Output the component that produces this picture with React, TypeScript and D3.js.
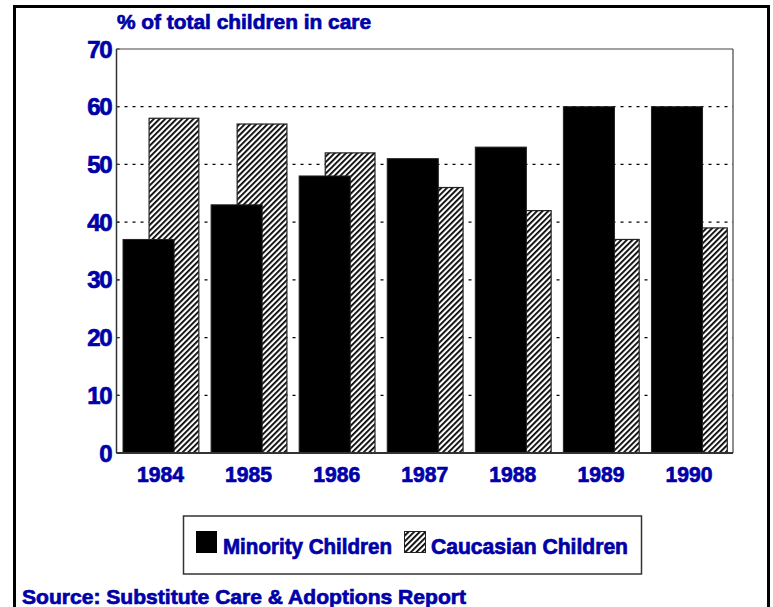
import React from "react";
import * as d3 from "d3";

const years = ["1984", "1985", "1986", "1987", "1988", "1989", "1990"];
const minority = [37, 43, 48, 51, 53, 60, 60];
const caucasian = [58, 57, 52, 46, 42, 37, 39];
const yTicks = [0, 10, 20, 30, 40, 50, 60, 70];
const gridTicks = [10, 20, 30, 40, 50, 60];
const seriesNames = ["Minority Children", "Caucasian Children"];
const titleText = "% of total children in care";
const sourceText = "Source: Substitute Care & Adoptions Report";

const W = 773;
const H = 607;
const BLUE = "#0000a8";
const FONT = "'Liberation Sans', Arial, Helvetica, sans-serif";
const heavy = { stroke: BLUE, strokeWidth: 0.7, paintOrder: "stroke" } as any;

export default function App() {
  const left = 116.5, right = 733, top = 49, bottom = 453;
  const x = d3.scaleBand<string>().domain(years).range([left, right]).paddingInner(0).paddingOuter(0);
  const y = d3.scaleLinear().domain([0, 70]).range([bottom, top]);
  const bw = x.bandwidth();
  const blackOff = bw * 0.074;
  const blackW = bw * 0.58;
  const hatchOff = bw * 0.37;
  const hatchW = bw * 0.565;

  return (
    <svg width={W} height={H} style={{ position: "absolute", left: 0, top: 0, background: "#fff" }}>
      <defs>
        <pattern id="hatch" patternUnits="userSpaceOnUse" width="4" height="4" patternTransform="rotate(45)">
          <rect x="0" y="0" width="4" height="4" fill="#fff" />
          <rect x="0" y="0" width="1.8" height="4" fill="#000" />
        </pattern>
      </defs>
      <rect x={14.5} y={6.5} width={754} height={H + 10} fill="none" stroke="#000" strokeWidth={3} />

      <text x={117} y={29} fontFamily={FONT} fontWeight="bold" fontSize={21} fill={BLUE} {...heavy} textLength={254} lengthAdjust="spacingAndGlyphs">
        {titleText}
      </text>

      {gridTicks.map((t) => (
        <line key={t} x1={left} x2={right} y1={y(t)} y2={y(t)} stroke="#000" strokeWidth={1.2} strokeDasharray="3,5" />
      ))}

      {/* plot frame */}
      <line x1={left} x2={right} y1={top} y2={top} stroke="#444" strokeWidth={1.2} />
      <line x1={right} x2={right} y1={top} y2={bottom} stroke="#444" strokeWidth={1.2} />

      {years.map((yr, i) => {
        const x0 = x(yr) as number;
        return (
          <g key={yr}>
            <rect x={x0 + hatchOff} y={y(caucasian[i])} width={hatchW} height={bottom - y(caucasian[i])} fill="url(#hatch)" stroke="#222" strokeWidth={1.2} />
            <rect x={x0 + blackOff} y={y(minority[i])} width={blackW} height={bottom - y(minority[i])} fill="#000" stroke="#222" strokeWidth={1} />
          </g>
        );
      })}

      <line x1={left} x2={left} y1={top} y2={bottom} stroke="#333" strokeWidth={1.5} />
      <line x1={left} x2={right} y1={bottom} y2={bottom} stroke="#333" strokeWidth={2} />
      {yTicks.map((t) => (
        <line key={"tk" + t} x1={left} x2={left + 3} y1={y(t)} y2={y(t)} stroke="#333" strokeWidth={1} />
      ))}

      {yTicks.map((t) => (
        <text key={"yl" + t} x={111} y={y(t) + 8.5} textAnchor="end" fontFamily={FONT} fontWeight="bold" fontSize={24} fill={BLUE} {...heavy} letterSpacing={-1.5}>
          {t}
        </text>
      ))}

      {years.map((yr) => (
        <text key={"xl" + yr} x={(x(yr) as number) + bw / 2} y={482} textAnchor="middle" fontFamily={FONT} fontWeight="bold" fontSize={22} fill={BLUE} {...heavy} textLength={47} lengthAdjust="spacingAndGlyphs">
          {yr}
        </text>
      ))}

      {/* legend */}
      <rect x={183.5} y={516} width={458} height={58} fill="#fff" stroke="#333" strokeWidth={1.5} />
      <rect x={196} y={531} width={21} height={22} fill="#000" />
      <text x={223} y={554} fontFamily={FONT} fontWeight="bold" fontSize={22} fill={BLUE} {...heavy} textLength={169} lengthAdjust="spacingAndGlyphs">
        {seriesNames[0]}
      </text>
      <rect x={404.5} y={531.5} width={21} height={21} fill="url(#hatch)" stroke="#222" strokeWidth={1} />
      <text x={431} y={554} fontFamily={FONT} fontWeight="bold" fontSize={22} fill={BLUE} {...heavy} textLength={197} lengthAdjust="spacingAndGlyphs">
        {seriesNames[1]}
      </text>

      <text x={22} y={604} fontFamily={FONT} fontWeight="bold" fontSize={21} fill={BLUE} {...heavy} textLength={444} lengthAdjust="spacingAndGlyphs">
        {sourceText}
      </text>
    </svg>
  );
}
